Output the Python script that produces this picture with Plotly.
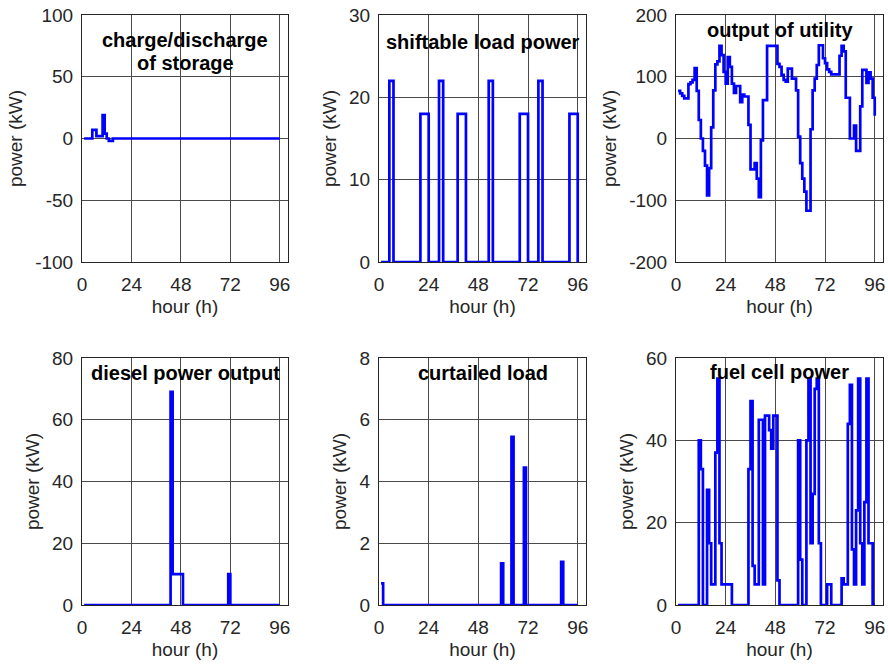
import plotly.graph_objects as go

# hourly horizon, 1..96 h
hours = list(range(1, 97))

storage_kw = [
    0, 0, 0, 0, 7, 7, 2, 2, 2, 19, 4, 0,
    -2, -2, 0, 0, 0, 0, 0, 0, 0, 0, 0, 0,
    0, 0, 0, 0, 0, 0, 0, 0, 0, 0, 0, 0,
    0, 0, 0, 0, 0, 0, 0, 0, 0, 0, 0, 0,
    0, 0, 0, 0, 0, 0, 0, 0, 0, 0, 0, 0,
    0, 0, 0, 0, 0, 0, 0, 0, 0, 0, 0, 0,
    0, 0, 0, 0, 0, 0, 0, 0, 0, 0, 0, 0,
    0, 0, 0, 0, 0, 0, 0, 0, 0, 0, 0, 0,
]

shiftable_kw = [
    0, 0, 0, 0, 22, 22, 0, 0, 0, 0, 0, 0,
    0, 0, 0, 0, 0, 0, 0, 18, 18, 18, 18, 0,
    0, 0, 0, 0, 22, 22, 0, 0, 0, 0, 0, 0,
    0, 18, 18, 18, 18, 0, 0, 0, 0, 0, 0, 0,
    0, 0, 0, 0, 22, 22, 0, 0, 0, 0, 0, 0,
    0, 0, 0, 0, 0, 0, 0, 18, 18, 18, 18, 0,
    0, 0, 0, 0, 22, 22, 0, 0, 0, 0, 0, 0,
    0, 0, 0, 0, 0, 0, 0, 18, 18, 18, 18, 0,
]

utility_kw = [
    77, 73, 69, 65, 65, 88, 91, 95, 114, 77, 30, 0,
    -20, -44, -92, -48, 18, 78, 120, 125, 150, 135, 108, 89,
    132, 116, 89, 74, 85, 85, 59, 71, 68, 68, 22, -50,
    -50, -40, -65, -95, -3, 62, 62, 150, 150, 150, 150, 150,
    121, 116, 103, 95, 92, 113, 113, 97, 97, 78, 3, -40,
    -65, -86, -117, -117, 15, 78, 97, 119, 151, 151, 130, 122,
    112, 108, 104, 104, 104, 104, 134, 150, 141, 66, 66, 0,
    0, 21, -20, -20, 52, 111, 111, 90, 107, 97, 66, 37,
]

diesel_kw = [
    0, 0, 0, 0, 0, 0, 0, 0, 0, 0, 0, 0,
    0, 0, 0, 0, 0, 0, 0, 0, 0, 0, 0, 0,
    0, 0, 0, 0, 0, 0, 0, 0, 0, 0, 0, 0,
    0, 0, 0, 0, 0, 0, 69, 10, 10, 10, 10, 10,
    0, 0, 0, 0, 0, 0, 0, 0, 0, 0, 0, 0,
    0, 0, 0, 0, 0, 0, 0, 0, 0, 0, 10, 0,
    0, 0, 0, 0, 0, 0, 0, 0, 0, 0, 0, 0,
    0, 0, 0, 0, 0, 0, 0, 0, 0, 0, 0, 0,
]

curtailed_kw = [
    0.7, 0, 0, 0, 0, 0, 0, 0, 0, 0, 0, 0,
    0, 0, 0, 0, 0, 0, 0, 0, 0, 0, 0, 0,
    0, 0, 0, 0, 0, 0, 0, 0, 0, 0, 0, 0,
    0, 0, 0, 0, 0, 0, 0, 0, 0, 0, 0, 0,
    0, 0, 0, 0, 0, 0, 0, 0, 0, 0, 1.35, 0,
    0, 0, 0, 5.45, 0, 0, 0, 0, 0, 4.45, 0, 0,
    0, 0, 0, 0, 0, 0, 0, 0, 0, 0, 0, 0,
    0, 0, 0, 1.4, 0, 0, 0, 0, 0, 0, 0, 0,
]

fuelcell_kw = [
    0, 0, 0, 0, 0, 0, 0, 0, 0, 0, 40, 33,
    0, 0, 28, 15, 5, 5, 37, 55, 15, 5, 5, 5,
    5, 5, 0, 0, 0, 0, 0, 0, 0, 0, 33, 49.5,
    9.5, 5, 5, 45, 45, 5, 46, 46, 42.5, 38, 46, 46,
    6, 0, 0, 0, 0, 0, 0, 0, 0, 0, 40, 11,
    0, 0, 40, 55, 15, 27, 52.5, 55, 15, 0, 0, 0,
    5, 5, 0, 0, 0, 0, 0, 6.5, 5, 5, 44, 53.5,
    13.5, 5, 23, 55, 15, 5, 25, 55, 15, 15, 0, 0,
]

hour_ticks = [0, 24, 48, 72, 96]
storage_ticks = [-100, -50, 0, 50, 100]
shiftable_ticks = [0, 10, 20, 30]
utility_ticks = [-200, -100, 0, 100, 200]
diesel_ticks = [0, 20, 40, 60, 80]
curtailed_ticks = [0, 2, 4, 6, 8]
fuelcell_ticks = [0, 20, 40, 60]

# panel title lines with their height inside the panel (fraction of the axis domain)
panels = [
    dict(y=storage_kw, titles=[("charge/discharge", 0.899), ("of storage", 0.806)],
         yticks=storage_ticks),
    dict(y=shiftable_kw, titles=[("shiftable load power", 0.891)], yticks=shiftable_ticks),
    dict(y=utility_kw, titles=[("output of utility", 0.939)], yticks=utility_ticks),
    dict(y=diesel_kw, titles=[("diesel power output", 0.939)], yticks=diesel_ticks),
    dict(y=curtailed_kw, titles=[("curtailed load", 0.939)], yticks=curtailed_ticks),
    dict(y=fuelcell_kw, titles=[("fuel cell power", 0.943)], yticks=fuelcell_ticks),
]

W, H = 888, 666
col_px = [(82, 288), (379, 586), (676, 883)]
row_px = [(15, 262), (358, 605)]

FONT = "Liberation Sans, Arial, sans-serif"
TICK_FONT = dict(family=FONT, size=19, color="#262626")
GRID = "#4a4a4a"

fig = go.Figure()
layout = dict(
    width=W, height=H,
    margin=dict(l=0, r=0, t=0, b=0),
    paper_bgcolor="white", plot_bgcolor="white",
    showlegend=False,
    annotations=[],
)

for i, p in enumerate(panels):
    r, c = divmod(i, 3)
    n = "" if i == 0 else str(i + 1)
    x0, x1 = col_px[c]
    y0, y1 = row_px[r]
    fig.add_trace(go.Scatter(
        x=hours, y=p["y"], mode="lines",
        line=dict(color="#0000ff", width=2.7, shape="hv"),
        xaxis="x" + n, yaxis="y" + n, hoverinfo="skip",
    ))
    common = dict(
        showline=True, linecolor="#262626", linewidth=1, mirror=True,
        showgrid=True, gridcolor=GRID, gridwidth=1, zeroline=False,
        ticks="", tickfont=TICK_FONT, automargin=False,
    )
    yt = p["yticks"]
    layout["xaxis" + n] = dict(
        common, domain=[x0 / W, x1 / W], anchor="y" + n,
        range=[0, 100], tickvals=hour_ticks,
        ticktext=[str(v) for v in hour_ticks], ticklabelstandoff=5,
        title=dict(text="hour (h)", font=TICK_FONT, standoff=5),
    )
    layout["yaxis" + n] = dict(
        common, domain=[1 - y1 / H, 1 - y0 / H], anchor="x" + n,
        range=[yt[0], yt[-1]], tickvals=yt, ticktext=[str(v) for v in yt],
        ticklabelstandoff=4,
        title=dict(text="power (kW)", font=TICK_FONT, standoff=7),
    )
    for text, ty in p["titles"]:
        layout["annotations"].append(dict(
            text="<b>" + text + "</b>",
            xref="x" + n + " domain", yref="y" + n + " domain",
            x=0.5, y=ty, xanchor="center", yanchor="middle",
            showarrow=False, font=dict(family=FONT, size=20, color="black"),
        ))

fig.update_layout(**layout)
fig.write_html("out.html")
